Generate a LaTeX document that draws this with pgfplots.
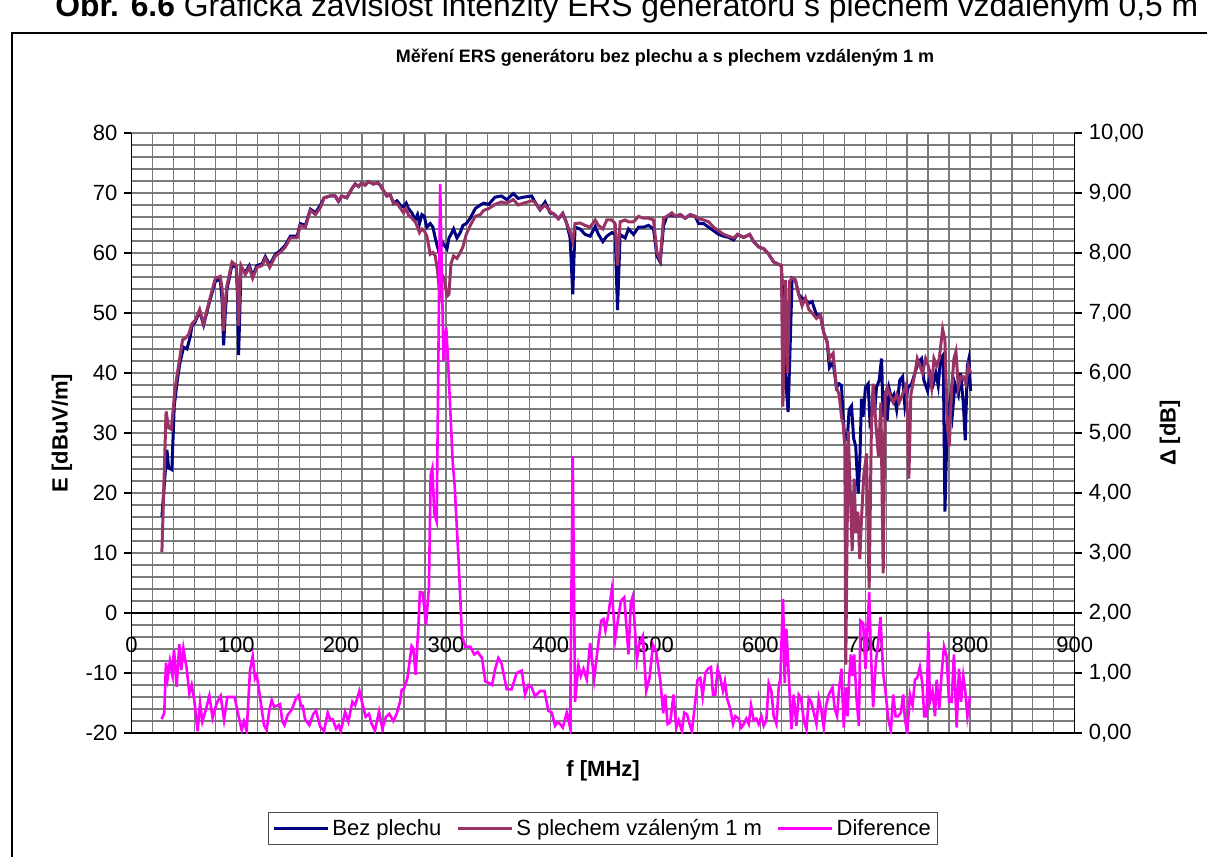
\documentclass[border=0pt]{standalone}
\usepackage{fontspec}
\setmainfont{Liberation Sans}
\usepackage{pgfplots}
\pgfplotsset{compat=1.18}
\definecolor{cBlue}{HTML}{000080}
\definecolor{cRed}{HTML}{993366}
\definecolor{cMag}{HTML}{FF00FF}
\definecolor{cGrid}{HTML}{7A7A7A}
\begin{document}
\begin{tikzpicture}
\useasboundingbox (0pt,0pt) rectangle (603.5pt,-428.5pt);
\clip (0pt,0pt) rectangle (603.5pt,-428.5pt);
\fill[white] (0pt,0pt) rectangle (603.5pt,-428.5pt);
\node[anchor=base west, inner sep=0pt, font=\fontsize{15.9}{18}\selectfont] at (27.5pt,-8pt) {\textbf{Obr. 6.6} Grafická závislost intenzity ERS generátoru s plechem vzdáleným 0,5 m};
\draw[black, line width=0.6pt] (6pt,-16.5pt) rectangle (640pt,-460pt);
\node[font=\bfseries\fontsize{9}{11}\selectfont] at (332.5pt,-29pt) {Měření ERS generátoru bez plechu a s plechem vzdáleným 1 m};
\begin{axis}[
  at={(65.75pt,-366.5pt)}, anchor=south west,
  scale only axis, width=471.65pt, height=300pt,
  xmin=0, xmax=900, ymin=-20, ymax=80,
  xtick={0,100,...,900}, minor x tick num=4,
  ytick={-20,-10,...,80}, minor y tick num=4,
  grid=both,
  major grid style={draw=cGrid, line width=0.6pt},
  minor grid style={draw=cGrid, line width=0.6pt},
  axis lines*=left,
  axis line style={black, line width=0.6pt},
  tick align=outside, major tick length=3.5pt, minor tick length=0pt,
  tick style={black, line width=0.6pt},
  xtick style={draw=none},
  xticklabel style={yshift=55pt},
  /pgf/number format/assume math mode=true,
  ticklabel style={font=\fontsize{11}{13}\selectfont},
  extra y ticks={0}, extra y tick labels={},
  extra y tick style={grid=major, major grid style={draw=black, line width=0.7pt}},
  xlabel={f [MHz]},
  xlabel style={at={(rel axis cs:0.5,-0.0633)}, anchor=center, font=\bfseries\fontsize{11}{13}\selectfont},
  ylabel={E [dBuV/m]},
  ylabel style={at={(rel axis cs:-0.0737,0.5)}, anchor=center, font=\bfseries\fontsize{11}{13}\selectfont},
  legend columns=3,
  legend style={at={(0.5,-0.159)}, anchor=center, draw=black!70, line width=0.5pt,
    font=\fontsize{11}{13}\selectfont, inner xsep=2pt, inner ysep=1.5pt,
    nodes={inner xsep=1.5pt, inner ysep=1pt, text height=1.7ex, text depth=0.45ex},
    /tikz/every even column/.append style={column sep=6pt}},
  legend image code/.code={\draw[#1] (0pt,0pt) -- (27pt,0pt);},
]
\addplot[color=cBlue, line width=1.5pt] table[x=f, y=E] {
f E
29 16
33.8 27.2
35.4 24.2
38.5 23.9
40.8 34.5
43.3 38.2
46 41.5
49.7 44.3
52.9 44
56 46
57.6 47.8
60.8 48.5
65 50.3
68.8 48
73.6 51.3
80 55.3
84.7 55.6
86.5 52
87.9 44.6
89.5 50
91.1 54
95.9 58
100 57.6
101.3 52
102.2 43
103.3 50
104.5 57.6
108.6 56.8
112.4 57.9
115.6 56.2
119.7 57.9
124.5 58.2
127.7 59.4
131.8 58
137.3 59.8
142 60.4
146.8 61.3
151.6 62.8
158 62.8
161.1 64.9
165.9 64.6
170.7 67.3
175.5 66.7
180.3 68
183.8 69.2
189.5 69.5
194.3 69.5
197.5 68.6
200.6 69.5
205.4 69.2
210.2 70.7
213.4 71.5
216.6 71.1
219.7 71.7
222.9 71.3
226.1 71.9
230.9 71.5
234.7 71.7
237.3 71.3
240.4 70.4
243.6 69.5
246.8 69.7
250 68.3
253.2 68.7
256.4 68
259.6 67.7
262.1 68.3
264.3 67.4
267.5 66.7
270.7 65.5
272.9 66.4
274.8 64.9
277.1 66.4
279.3 66.1
281.8 64.3
285 64.9
287.6 64.3
289.8 62.5
292 61
294 59.8
296.2 61.9
298.4 61.3
301 60.7
302.9 62.5
304.8 63.1
307.3 64
310.5 62.5
313.7 63.4
316.2 64.6
319.4 64.9
323.2 65.8
328 67.4
332.8 68
336 68.3
340.8 68.1
346.8 69.3
353 69.5
358 68.9
364.3 69.9
369 69.1
373.9 69.3
381.8 69.5
385 68.5
389.8 67.2
394.6 68.5
399.4 66.7
403 66.5
407.3 65.7
411.5 66.6
415.3 64.9
418.5 62.5
421 53.1
423.2 64.3
428 64
432.8 63.1
437.6 62.8
442.4 64.4
445.5 63.1
449.7 61.9
453.5 62.8
458.3 63.4
461.5 63.1
463.7 50.5
466.2 63.1
471 62.5
474.2 64
479 63.1
483.8 64.3
488.5 64.3
493.3 64.6
498.1 64
501.3 59.5
504.5 58.5
507.6 64.5
510.8 66.1
515.6 66.4
518.8 66.1
523.6 66.4
528.3 65.8
533.1 66.4
537.9 66.1
541.1 64.9
545.9 64.9
550.6 64.3
555.4 63.7
560.2 63.1
565 62.8
569.7 62.6
574.5 62.2
578.3 63.1
584 62.6
589.8 63.1
593.6 61.9
598.4 61
603.2 60.7
608 59.8
612.7 58.5
617.5 58.1
620.1 57.9
622 50
624.5 38
626.5 33.5
628.5 45
630.3 55.8
633.4 55.5
636.6 53.1
639.8 52.5
643 52.2
646.2 51.6
649.4 51.9
653.5 49.7
657.3 49.7
660.5 46.7
663.7 45.2
665.9 40.9
669.4 41.8
672.6 37.6
675.2 38.2
677.4 37.9
679 32.7
680.6 28.8
683 29.1
684.7 33.9
687 34.5
689 29.1
691 27.8
693.3 19.9
694.9 25.4
696.5 35.7
698 32.7
700.3 37.6
702.9 38.2
704.5 32.1
707 33.9
709 33.3
710.8 37.6
713.4 38.8
715.6 42.4
717.2 32.7
718.8 37
721 32.1
723 37.3
725.2 35.7
727.4 36.4
730 33.9
733 38.8
735.7 39.4
737.9 34.5
741 37.6
744.3 38.2
747.5 40
750.6 41.8
753.8 42.4
756 38.8
759.6 37
761.8 40
765 38.2
767.5 40
769.7 37.9
772 42.4
774.5 43
776.1 16.9
778.3 31.5
780.9 35.1
783 32.7
785.7 38.2
788.9 36.4
791 40
793.6 35.1
795.5 28.8
797.5 41.2
799 42.4
800.6 37
};
\addlegendentry{Bez plechu}
\addplot[color=cRed, line width=1.5pt] table[x=f, y=E] {
f E
29 10.2
33 33.6
35.4 30.9
38 30.6
41.7 37.6
43.3 39.4
48.7 45.5
51.3 45.8
54.5 46.4
57.6 48.2
60.8 48.8
65 50.6
68.8 48.2
73.6 51.6
80 55.8
84.7 56.1
86.5 54
87.9 47
89.5 52
91.1 54.6
95.9 58.5
100 57.9
101.3 54
102.2 47.9
103.3 54
104.5 57.9
108.6 56.4
112.4 57.6
115.6 55.8
119.7 57.6
124.5 57.9
127.7 59.1
131.8 57.6
137.3 59.5
142 60.1
146.8 61
151.6 62.5
158 62.5
161.1 64.6
165.9 64.3
170.7 67.1
175.5 66.4
180.3 67.6
183.8 69.2
189.5 69.5
194.3 69.5
197.5 68.6
200.6 69.5
205.4 69.2
210.2 70.7
213.4 71.5
216.6 71.1
219.7 71.7
222.9 71.3
226.1 71.9
230.9 71.5
234.7 71.7
237.3 71.3
240.4 70.4
243.6 69.5
246.8 69.7
250 68.3
253.2 68.3
256.4 67.5
259.6 66.7
262.1 67.4
264.3 66.3
267.5 65.8
270.7 65.2
272.9 64.3
274.8 63.4
277.1 64
279.3 63.7
281.8 62.8
285 59.8
287.6 60.1
289.8 59.5
292 57
294 53.1
296.2 56.4
298.4 55.8
301 52.8
302.9 53.1
304.8 58.2
307.3 59.5
310.5 59.1
313.7 60.1
316.2 61
319.4 63.1
323.2 64.6
328 66.1
332.8 66.4
336 67.1
340.8 67.4
346.8 68.1
353 68.5
358 68.3
364.3 68.9
369 68
373.9 68.3
381.8 68.7
385 68.5
389.8 67.2
394.6 68
399.4 66.9
403 66.5
407.3 65.7
411.5 66.6
415.3 64.9
418.5 63.4
421 61.9
423.2 64.9
428 65
432.8 64.6
437.6 64.3
442.4 65.5
445.5 64.6
449.7 64
453.5 65.5
458.3 65.5
461.5 64.9
463.7 57.9
466.2 65.2
471 65.5
474.2 65.2
479 65.2
483.8 66.1
488.5 65.8
493.3 65.8
498.1 65.5
501.3 60.1
504.5 58.8
507.6 65.8
510.8 66.1
515.6 66.7
518.8 66.1
523.6 66.4
528.3 65.8
533.1 66.4
537.9 66.1
541.1 65.7
545.9 65.5
550.6 65.2
555.4 64.3
560.2 63.7
565 63.1
569.7 62.8
574.5 62.5
578.3 63.1
584 62.6
589.8 63.1
593.6 61.9
598.4 61
603.2 60.7
608 59.8
612.7 58.5
617.5 58.1
620.1 57.9
621.5 34.4
624 55.5
626 40
628 55.3
630.3 55.8
633.4 55.5
636.6 53.1
639.8 51.2
643 52.5
646.2 50.6
649.4 50
653.5 49.1
657.3 49.7
660.5 46.7
663.7 45.2
665.9 42.4
669.4 43.3
672.6 37.6
675.2 36.4
677.4 32.7
679 31.5
680.6 27.8
681.5 -8.6
683.8 30.3
686 19.3
687.6 10.3
689.5 22.4
691.1 13.3
693 16.9
694.9 9
696.5 15.7
698.7 23
701.3 26.6
703.8 4.1
706 31.5
707.6 38.2
710.2 31.5
712.7 26
715 35.1
717.2 6.6
719.1 36.4
721 37.6
723.6 36.4
726.8 35.1
730 36.4
732.5 35.1
734.7 36
739.5 38.2
741.7 22.4
743.6 36.4
747.5 40
749.7 42.4
752.2 41.2
754.8 40
757.6 42.4
760.2 41.2
763.4 37.6
765.6 42.4
768.2 41.2
770.7 42.4
773.9 47.3
776.1 45.5
778.3 31.5
780.3 27.8
782.5 37.6
784.7 42.4
786.6 43.6
788.9 37.6
791.4 39.4
793.6 39.4
796.2 38.2
798.4 41.2
800.6 40
};
\addlegendentry{S plechem vzáleným 1 m}
\addlegendimage{color=cMag, line width=1.3pt}
\addlegendentry{Diference}
\end{axis}
\begin{axis}[
  at={(65.75pt,-366.5pt)}, anchor=south west,
  scale only axis, width=471.65pt, height=300pt,
  xmin=0, xmax=900, ymin=0, ymax=10,
  axis x line=none, axis y line*=right,
  axis line style={black, line width=0.6pt},
  ytick={0,1,...,10}, minor y tick num=0,
  tick align=outside, major tick length=3.5pt,
  tick style={black, line width=0.6pt},
  /pgf/number format/assume math mode=true,
  yticklabel style={/pgf/number format/.cd, fixed, fixed zerofill, precision=2, use comma},
  ticklabel style={font=\fontsize{11}{13}\selectfont},
  ylabel={Δ [dB]},
  ylabel style={at={(rel axis cs:1.1009,0.5)}, anchor=center, font=\bfseries\fontsize{11}{13}\selectfont},
]
\addplot[color=cMag, line width=1.3pt] table[x=f, y=d] {
f d
28.8 0.23
31.3 0.34
32.9 1.17
34.5 0.92
36.7 1.2
38.7 1.0
40.6 1.38
43.1 0.77
45.6 1.48
47.5 1.05
49.5 1.41
52.6 1.08
55.2 0.66
57.4 0.8
59.9 0.55
63.1 0.03
65.4 0.5
67.6 0.19
70.8 0.38
74.3 0.62
77.4 0.25
81.3 0.5
85.1 0.62
88.3 0.22
91.4 0.6
94.6 0.6
98.4 0.6
101.9 0.3
105.1 0.05
107.3 0.19
109.9 0.03
113.1 1.05
115.6 1.28
117.8 0.91
119.5 0.97
122.6 0.6
126.4 0.13
129 0.05
131.5 0.38
133.8 0.55
136 0.44
138.5 0.45
141.7 0.48
144 0.19
145.9 0.13
149 0.3
152.9 0.39
157 0.58
159.5 0.63
161.8 0.45
163.4 0.45
165.6 0.23
169.7 0.13
173.5 0.32
176.1 0.37
179.9 0.11
183.7 0.03
187.2 0.34
189.4 0.23
192 0.23
195.2 0.07
197.7 0.13
199.6 0.03
203.8 0.35
206.9 0.19
210.7 0.52
213.3 0.46
217.4 0.7
220.3 0.49
223.4 0.27
226.6 0.32
229.2 0.15
232.3 0.04
236.2 0.36
239.3 0.07
242.8 0.27
246 0.32
249.8 0.2
253 0.32
256.2 0.52
257.8 0.72
260 0.74
263.2 0.91
267.3 1.45
268.9 1.41
271.1 0.97
273.7 1.77
275.2 2.35
277.8 2.34
281 1.8
283.8 2.44
285.4 4.3
287 4.41
288.9 3.66
291.2 3.52
294.5 9.15
297.7 6.2
300.3 6.76
302 6.2
306.5 4.5
308.3 4.13
312 2.9
315.3 1.62
318.5 1.44
323.2 1.44
327 1.31
330.3 1.35
334.4 1.25
337.6 0.86
341.4 0.83
344 0.8
347 1.07
350 1.25
353 1.16
358 0.73
362.7 0.73
367.5 1.0
372.3 1.04
375.5 0.64
378.7 0.8
381.8 0.76
385 0.61
389.8 0.7
394 0.7
397.8 0.37
401 0.34
404.1 0.12
406.7 0.18
408.9 0.15
411.5 0.09
415.3 0.34
418.5 0.09
421 4.62
423.2 0.52
426.4 1.13
428.7 0.95
431.2 1.07
434.4 0.89
437.6 1.5
441.4 0.89
444.6 1.38
448.1 1.87
450.3 1.9
452.2 1.71
455.1 1.99
458.3 2.39
461.5 1.56
464 1.87
466.9 2.2
470.1 2.26
474.2 1.31
476.4 2.17
478.3 2.28
482.2 1.22
484.7 1.5
487.9 1.62
491.1 0.7
494.3 0.92
497.5 1.47
500.6 1.35
504.5 0.88
507.3 0.33
509.2 0.64
511.5 0.15
514 0.18
517.2 0.64
519.7 0.09
522 0.21
525.2 0.03
527.4 0.34
530 0.31
532.5 0.15
534.7 0.03
537.9 0.52
540.1 0.89
542.7 0.92
544.9 0.61
547.5 1.0
550 1.07
552.9 1.1
554.8 0.64
557 0.64
559.2 1.07
561.8 0.92
564.3 0.7
566.2 0.86
568.2 0.58
571.3 0.4
573.9 0.15
576.1 0.28
579.3 0.24
581.8 0.09
584.1 0.15
586.6 0.24
588.9 0.15
591.1 0.46
593.6 0.21
596.2 0.24
598.4 0.15
601 0.28
603.2 0.12
605.7 0.21
608 0.83
610.5 0.7
612.7 0.28
615.3 0.15
617.5 0.76
619.1 0.92
620.7 1.8
621.7 2.23
623.2 0.83
624.8 1.74
626.4 1.19
628 0.64
629.6 0.06
631.8 0.64
634.4 0.12
636.6 0.64
638.9 0.58
641.4 0.21
644 0.06
646.2 0.58
648.4 0.52
651 0.34
653.5 0.15
655.7 0.58
658 0.4
660.5 0.09
662.7 0.46
665.3 0.64
668.8 0.76
671 0.4
673.2 0.28
675.2 0.76
677.4 1.07
679.6 0.09
681.5 0.76
683.1 0.28
684.7 0.89
686.3 1.31
687.9 0.95
689.5 1.31
691.7 0.58
694 0.12
695.5 1.87
698.1 1.83
700.3 1.07
701.9 1.62
703.8 2.35
705.4 1.38
707.6 0.43
710.2 1.19
712.4 1.5
714.6 1.93
717.2 1.0
719.7 0.64
722 0.24
724.5 0.03
726.8 0.64
729 0.28
731.5 0.28
734.1 0.34
736.3 0.64
737.9 0.24
740.1 0
742.7 0.64
745.2 0.46
747.5 0.89
749.7 0.92
752.2 1.1
754.5 0.83
756.4 0.28
758.6 0.28
760.2 1.68
761.8 0.52
764.3 0.7
766.6 0.28
768.2 0.89
770.7 0.4
773 1.0
775.2 1.44
777.7 1.28
780 0.52
782.5 0.52
784.7 1.31
787.3 0.09
789.5 1.07
791.4 0.52
793.6 0.95
795.5 0.7
797.5 0.28
800 0.61
};
\end{axis}
\end{tikzpicture}
\end{document}
